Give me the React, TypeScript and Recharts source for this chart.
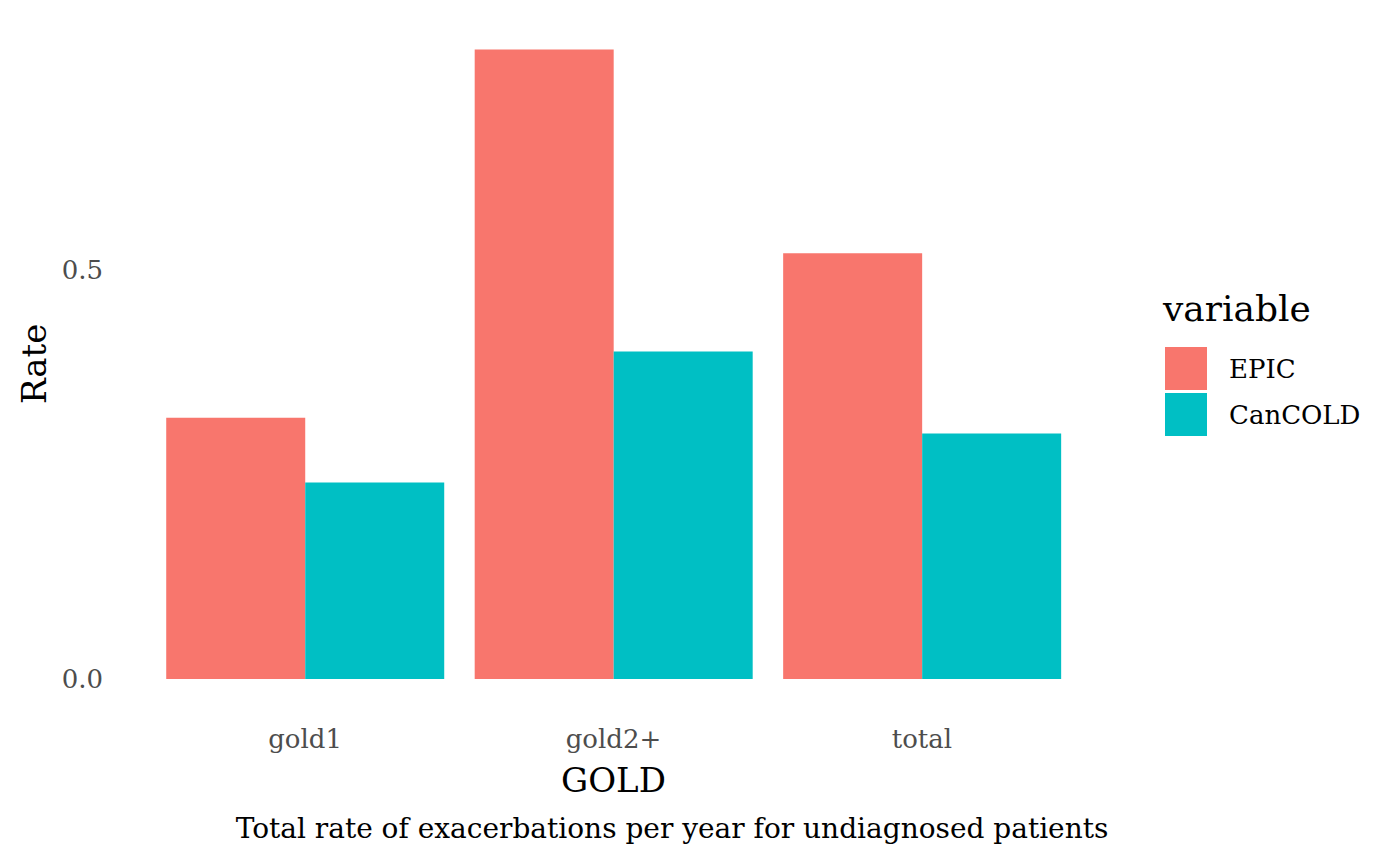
import { Bar, BarChart, XAxis, YAxis } from "recharts";

const categories = ["gold1", "gold2+", "total"];
const epic = [0.319, 0.769, 0.52];
const cancold = [0.24, 0.4, 0.3];
const seriesNames = ["EPIC", "CanCOLD"];
const seriesColors = ["#F8766D", "#00BFC4"];
const yTicks = [0, 0.5];

const data = categories.map((gold, i) => ({ gold, EPIC: epic[i], CanCOLD: cancold[i] }));

const FONT = "'DejaVu Serif', serif";

function RateLabel({ viewBox }: any) {
  const cy = viewBox.y + viewBox.height / 2;
  return (
    <text x={46} y={cy} transform={`rotate(-90 46 ${cy})`} textAnchor="middle" fontSize={34} fill="#000" fontFamily={FONT}>
      Rate
    </text>
  );
}

function GoldLabel({ viewBox }: any) {
  const cx = viewBox.x + viewBox.width / 2;
  return (
    <g fontFamily={FONT} fill="#000">
      <text x={cx} y={792} textAnchor="middle" fontSize={34}>GOLD</text>
      <text x={672} y={838} textAnchor="middle" fontSize={28}>
        Total rate of exacerbations per year for undiagnosed patients
      </text>
    </g>
  );
}

export default function App() {
  return (
    <div style={{ position: "absolute", left: 0, top: 0, width: 1400, height: 865, background: "#fff", fontFamily: FONT }}>
      <BarChart
        width={1400}
        height={865}
        data={data}
        margin={{ top: 16, right: 293, bottom: 33.3, left: 60 }}
        barCategoryGap="5%"
        barGap={0}
      >
        <XAxis
          dataKey="gold"
          height={120}
          padding={{ left: 30.8, right: 30.8 }}
          axisLine={false}
          tickLine={false}
          tickSize={0}
          tickMargin={18}
          tick={{ fill: "#4D4D4D", fontSize: 26, fontFamily: FONT }}
          label={<GoldLabel />}
        />
        <YAxis
          width={60}
          domain={[-0.04, 0.81]}
          ticks={yTicks}
          allowDataOverflow
          axisLine={false}
          tickLine={false}
          tickSize={0}
          tickMargin={17}
          tickFormatter={(v: number) => v.toFixed(1)}
          tick={{ fill: "#4D4D4D", fontSize: 26, fontFamily: FONT }}
          label={<RateLabel />}
        />
        {seriesNames.map((name, i) => (
          <Bar key={name} dataKey={name} fill={seriesColors[i]} isAnimationActive={false} />
        ))}
      </BarChart>
      <div style={{ position: "absolute", left: 1163, top: 287 }}>
        <div style={{ fontSize: 36, lineHeight: "44px", color: "#000", marginBottom: 16 }}>variable</div>
        {seriesNames.map((name, i) => (
          <div key={name} style={{ display: "flex", alignItems: "center", height: 43, marginBottom: 3 }}>
            <div style={{ width: 42, height: 43, marginLeft: 2, background: seriesColors[i] }} />
            <span style={{ marginLeft: 22, fontSize: 26, color: "#000" }}>{name}</span>
          </div>
        ))}
      </div>
    </div>
  );
}
